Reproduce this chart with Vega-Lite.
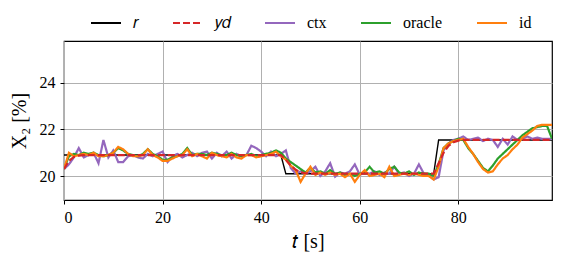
{
  "$schema": "https://vega.github.io/schema/vega-lite/v6.json",
  "width": 488,
  "height": 159,
  "autosize": "none",
  "padding": {"left": 64, "top": 41, "right": 11, "bottom": 63},
  "background": "white",
  "config": {
    "font": "Liberation Serif",
    "view": {"stroke": "black", "strokeWidth": 1.2},
    "axis": {
      "grid": true, "gridColor": "#b0b0b0", "gridWidth": 1,
      "domain": false, "tickColor": "black", "tickSize": 4, "tickWidth": 1,
      "labelColor": "black", "labelFontSize": 16, "labelPadding": 5, "labelFont": "Liberation Serif",
      "titleColor": "black", "titleFontSize": 20, "titleFontWeight": "normal", "titleFont": "Liberation Serif"
    },
    "legend": {
      "orient": "none", "legendX": 26, "legendY": -34, "direction": "horizontal",
      "columns": 5, "symbolType": "stroke", "symbolSize": 900, "symbolStrokeWidth": 2,
      "labelFontSize": 16, "labelOffset": 11, "columnPadding": 30, "labelFont": "Liberation Serif",
      "labelColor": "black", "title": null
    }
  },
  "data": {"values": [
    {"t":0,"r":20.9,"y_d":20.3,"ctx":20.3,"oracle":20.3,"id":20.3},
    {"t":1,"r":20.9,"y_d":20.65,"ctx":20.5,"oracle":20.85,"id":21.0},
    {"t":2,"r":20.9,"y_d":20.82,"ctx":20.8,"oracle":20.95,"id":20.85},
    {"t":3,"r":20.9,"y_d":20.88,"ctx":21.2,"oracle":20.9,"id":20.9},
    {"t":4,"r":20.9,"y_d":20.9,"ctx":20.8,"oracle":21.0,"id":20.95},
    {"t":5,"r":20.9,"y_d":20.9,"ctx":20.9,"oracle":20.95,"id":20.9},
    {"t":6,"r":20.9,"y_d":20.9,"ctx":21.0,"oracle":21.0,"id":21.0},
    {"t":7,"r":20.9,"y_d":20.9,"ctx":20.55,"oracle":20.9,"id":20.85},
    {"t":8,"r":20.9,"y_d":20.9,"ctx":21.55,"oracle":20.85,"id":20.85},
    {"t":9,"r":20.9,"y_d":20.9,"ctx":20.8,"oracle":20.9,"id":20.9},
    {"t":10,"r":20.9,"y_d":20.9,"ctx":21.1,"oracle":21.0,"id":21.0},
    {"t":11,"r":20.9,"y_d":20.9,"ctx":20.6,"oracle":21.2,"id":21.25},
    {"t":12,"r":20.9,"y_d":20.9,"ctx":20.6,"oracle":21.1,"id":21.15},
    {"t":13,"r":20.9,"y_d":20.9,"ctx":20.85,"oracle":20.95,"id":20.95},
    {"t":14,"r":20.9,"y_d":20.9,"ctx":20.9,"oracle":20.9,"id":20.85},
    {"t":15,"r":20.9,"y_d":20.9,"ctx":20.8,"oracle":20.85,"id":20.85},
    {"t":16,"r":20.9,"y_d":20.9,"ctx":20.75,"oracle":20.95,"id":20.9},
    {"t":17,"r":20.9,"y_d":20.9,"ctx":20.95,"oracle":21.15,"id":21.15},
    {"t":18,"r":20.9,"y_d":20.9,"ctx":20.85,"oracle":20.95,"id":20.9},
    {"t":19,"r":20.9,"y_d":20.9,"ctx":20.95,"oracle":20.85,"id":20.8},
    {"t":20,"r":20.9,"y_d":20.9,"ctx":21.05,"oracle":20.7,"id":20.65},
    {"t":21,"r":20.9,"y_d":20.9,"ctx":20.6,"oracle":20.7,"id":20.65},
    {"t":22,"r":20.9,"y_d":20.9,"ctx":20.85,"oracle":20.8,"id":20.75},
    {"t":23,"r":20.9,"y_d":20.9,"ctx":20.95,"oracle":20.85,"id":20.85},
    {"t":24,"r":20.9,"y_d":20.9,"ctx":20.8,"oracle":20.95,"id":20.9},
    {"t":25,"r":20.9,"y_d":20.9,"ctx":20.9,"oracle":21.2,"id":21.15},
    {"t":26,"r":20.9,"y_d":20.9,"ctx":21.0,"oracle":20.9,"id":20.85},
    {"t":27,"r":20.9,"y_d":20.9,"ctx":20.85,"oracle":20.95,"id":20.95},
    {"t":28,"r":20.9,"y_d":20.9,"ctx":21.0,"oracle":20.95,"id":20.85},
    {"t":29,"r":20.9,"y_d":20.9,"ctx":21.05,"oracle":20.9,"id":20.75},
    {"t":30,"r":20.9,"y_d":20.9,"ctx":20.75,"oracle":21.0,"id":21.0},
    {"t":31,"r":20.9,"y_d":20.9,"ctx":21.0,"oracle":20.95,"id":20.9},
    {"t":32,"r":20.9,"y_d":20.9,"ctx":20.85,"oracle":20.9,"id":20.85},
    {"t":33,"r":20.9,"y_d":20.9,"ctx":21.05,"oracle":20.9,"id":20.8},
    {"t":34,"r":20.9,"y_d":20.9,"ctx":20.75,"oracle":21.0,"id":20.95},
    {"t":35,"r":20.9,"y_d":20.9,"ctx":20.95,"oracle":20.9,"id":20.8},
    {"t":36,"r":20.9,"y_d":20.9,"ctx":20.85,"oracle":20.85,"id":20.75},
    {"t":37,"r":20.9,"y_d":20.9,"ctx":20.9,"oracle":20.9,"id":20.9},
    {"t":38,"r":20.9,"y_d":20.9,"ctx":21.3,"oracle":20.95,"id":20.9},
    {"t":39,"r":20.9,"y_d":20.9,"ctx":21.2,"oracle":20.85,"id":20.8},
    {"t":40,"r":20.9,"y_d":20.9,"ctx":21.05,"oracle":20.9,"id":20.85},
    {"t":41,"r":20.9,"y_d":20.9,"ctx":20.85,"oracle":20.95,"id":20.9},
    {"t":42,"r":20.9,"y_d":20.9,"ctx":21.05,"oracle":21.0,"id":20.95},
    {"t":43,"r":20.9,"y_d":20.9,"ctx":20.85,"oracle":21.1,"id":21.05},
    {"t":44,"r":20.9,"y_d":20.9,"ctx":20.95,"oracle":21.0,"id":20.85},
    {"t":45,"r":20.1,"y_d":20.7,"ctx":21.1,"oracle":20.75,"id":20.7},
    {"t":46,"r":20.1,"y_d":20.45,"ctx":20.35,"oracle":20.6,"id":20.45},
    {"t":47,"r":20.1,"y_d":20.27,"ctx":20.1,"oracle":20.45,"id":20.25},
    {"t":48,"r":20.1,"y_d":20.16,"ctx":20.2,"oracle":20.3,"id":19.75},
    {"t":49,"r":20.1,"y_d":20.12,"ctx":20.1,"oracle":20.15,"id":20.1},
    {"t":50,"r":20.1,"y_d":20.1,"ctx":20.2,"oracle":20.35,"id":20.4},
    {"t":51,"r":20.1,"y_d":20.1,"ctx":20.4,"oracle":20.15,"id":20.05},
    {"t":52,"r":20.1,"y_d":20.1,"ctx":20.0,"oracle":20.2,"id":20.15},
    {"t":53,"r":20.1,"y_d":20.1,"ctx":20.2,"oracle":20.1,"id":20.05},
    {"t":54,"r":20.1,"y_d":20.1,"ctx":20.55,"oracle":20.25,"id":20.15},
    {"t":55,"r":20.1,"y_d":20.1,"ctx":19.97,"oracle":20.1,"id":20.05},
    {"t":56,"r":20.1,"y_d":20.1,"ctx":20.15,"oracle":20.15,"id":20.1},
    {"t":57,"r":20.1,"y_d":20.1,"ctx":20.1,"oracle":20.05,"id":19.95},
    {"t":58,"r":20.1,"y_d":20.1,"ctx":20.2,"oracle":20.1,"id":20.1},
    {"t":59,"r":20.1,"y_d":20.1,"ctx":20.5,"oracle":20.0,"id":19.75},
    {"t":60,"r":20.1,"y_d":20.1,"ctx":20.05,"oracle":20.1,"id":20.05},
    {"t":61,"r":20.1,"y_d":20.1,"ctx":20.15,"oracle":20.15,"id":20.25},
    {"t":62,"r":20.1,"y_d":20.1,"ctx":20.1,"oracle":20.4,"id":20.0},
    {"t":63,"r":20.1,"y_d":20.1,"ctx":20.2,"oracle":20.15,"id":20.05},
    {"t":64,"r":20.1,"y_d":20.1,"ctx":20.05,"oracle":20.2,"id":20.1},
    {"t":65,"r":20.1,"y_d":20.1,"ctx":20.15,"oracle":20.1,"id":19.95},
    {"t":66,"r":20.1,"y_d":20.1,"ctx":20.1,"oracle":20.3,"id":20.4},
    {"t":67,"r":20.1,"y_d":20.1,"ctx":20.4,"oracle":20.4,"id":20.0},
    {"t":68,"r":20.1,"y_d":20.1,"ctx":20.1,"oracle":20.15,"id":20.05},
    {"t":69,"r":20.1,"y_d":20.1,"ctx":20.15,"oracle":20.1,"id":20.1},
    {"t":70,"r":20.1,"y_d":20.1,"ctx":20.0,"oracle":20.2,"id":20.05},
    {"t":71,"r":20.1,"y_d":20.1,"ctx":20.1,"oracle":20.05,"id":20.1},
    {"t":72,"r":20.1,"y_d":20.1,"ctx":20.5,"oracle":20.15,"id":20.05},
    {"t":73,"r":20.1,"y_d":20.1,"ctx":20.1,"oracle":20.1,"id":20.0},
    {"t":74,"r":20.1,"y_d":20.1,"ctx":20.05,"oracle":20.1,"id":20.0},
    {"t":75,"r":20.1,"y_d":20.1,"ctx":19.85,"oracle":20.0,"id":19.85},
    {"t":76,"r":21.55,"y_d":20.55,"ctx":19.95,"oracle":20.5,"id":20.4},
    {"t":77,"r":21.55,"y_d":21.0,"ctx":21.1,"oracle":21.2,"id":21.2},
    {"t":78,"r":21.55,"y_d":21.3,"ctx":21.4,"oracle":21.4,"id":21.4},
    {"t":79,"r":21.55,"y_d":21.45,"ctx":21.55,"oracle":21.5,"id":21.5},
    {"t":80,"r":21.55,"y_d":21.52,"ctx":21.6,"oracle":21.6,"id":21.55},
    {"t":81,"r":21.55,"y_d":21.55,"ctx":21.7,"oracle":21.55,"id":21.6},
    {"t":82,"r":21.55,"y_d":21.55,"ctx":21.55,"oracle":21.2,"id":21.25},
    {"t":83,"r":21.55,"y_d":21.55,"ctx":21.6,"oracle":20.95,"id":20.95},
    {"t":84,"r":21.55,"y_d":21.55,"ctx":21.65,"oracle":20.65,"id":20.6},
    {"t":85,"r":21.55,"y_d":21.55,"ctx":21.5,"oracle":20.35,"id":20.3},
    {"t":86,"r":21.55,"y_d":21.55,"ctx":21.6,"oracle":20.2,"id":20.15},
    {"t":87,"r":21.55,"y_d":21.55,"ctx":21.55,"oracle":20.45,"id":20.2},
    {"t":88,"r":21.55,"y_d":21.55,"ctx":21.25,"oracle":20.75,"id":20.5},
    {"t":89,"r":21.55,"y_d":21.55,"ctx":21.6,"oracle":20.95,"id":20.75},
    {"t":90,"r":21.55,"y_d":21.55,"ctx":21.35,"oracle":21.15,"id":20.9},
    {"t":91,"r":21.55,"y_d":21.55,"ctx":21.7,"oracle":21.35,"id":21.15},
    {"t":92,"r":21.55,"y_d":21.55,"ctx":21.55,"oracle":21.55,"id":21.35},
    {"t":93,"r":21.55,"y_d":21.55,"ctx":21.6,"oracle":21.75,"id":21.65},
    {"t":94,"r":21.55,"y_d":21.55,"ctx":21.7,"oracle":21.9,"id":21.8},
    {"t":95,"r":21.55,"y_d":21.55,"ctx":21.6,"oracle":22.05,"id":21.95},
    {"t":96,"r":21.55,"y_d":21.55,"ctx":21.65,"oracle":22.1,"id":22.15},
    {"t":97,"r":21.55,"y_d":21.55,"ctx":21.6,"oracle":22.15,"id":22.2},
    {"t":98,"r":21.55,"y_d":21.55,"ctx":21.6,"oracle":22.15,"id":22.2},
    {"t":99,"r":21.55,"y_d":21.55,"ctx":21.6,"oracle":21.6,"id":22.2}
  ]},
  "transform": [
    {"fold": ["r", "y_d", "ctx", "oracle", "id"], "as": ["series", "value"]}
  ],
  "encoding": {
    "x": {"field": "t", "type": "quantitative",
          "scale": {"domain": [0, 99], "nice": false, "zero": false},
          "axis": {"values": [0, 20, 40, 60, 80], "title": "𝑡 [s]", "titlePadding": 6,
                   "labelFont": "Liberation Serif", "titleFont": "Liberation Serif"}},
    "y": {"field": "value", "type": "quantitative",
          "scale": {"domain": [18.97, 25.8], "nice": false, "zero": false},
          "axis": {"values": [20, 22, 24], "title": "X₂ [%]", "titlePadding": 10,
                   "labelFont": "Liberation Serif", "titleFont": "Liberation Serif"}},
    "color": {"field": "series", "type": "nominal",
              "scale": {"domain": ["r", "y_d", "ctx", "oracle", "id"],
                        "range": ["#000000", "#d62728", "#9467bd", "#2ca02c", "#ff7f0e"]},
              "legend": {"labelExpr": "datum.label == 'r' ? '𝑟' : datum.label == 'y_d' ? '𝑦𝑑' : datum.label"}},
    "strokeDash": {"field": "series", "type": "nominal",
                   "scale": {"domain": ["r", "y_d", "ctx", "oracle", "id"],
                             "range": [[1, 0], [7, 3], [1, 0], [1, 0], [1, 0]]}}
  },
  "layer": [
    {"transform": [{"filter": "datum.series == 'r'"}], "mark": {"type": "line", "clip": true, "strokeWidth": 1.4}},
    {"transform": [{"filter": "datum.series != 'y_d' && datum.series != 'r'"}], "mark": {"type": "line", "clip": true, "strokeWidth": 2.2}},
    {"transform": [{"filter": "datum.series == 'y_d'"}], "mark": {"type": "line", "clip": true, "strokeWidth": 2.2}}
  ]
}
